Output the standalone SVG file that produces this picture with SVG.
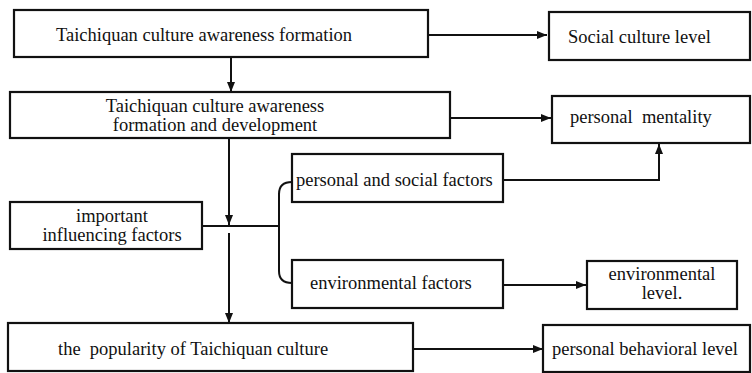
<svg xmlns="http://www.w3.org/2000/svg" width="752" height="373" viewBox="0 0 752 373">
<defs>
<marker id="ah" viewBox="0 0 10 8" refX="10" refY="4" markerWidth="11" markerHeight="8" markerUnits="userSpaceOnUse" orient="auto">
<path d="M0,0 L10,4 L0,8 z" fill="#111"/>
</marker>
<style>
.box{fill:#fff;stroke:#111;stroke-width:2.2}
.t{font-family:"Liberation Serif","Times New Roman",serif;font-size:18.5px;fill:#111;white-space:pre}
.c{text-anchor:middle}
.ln{fill:none;stroke:#111;stroke-width:2}
</style>
</defs>
<rect width="752" height="373" fill="#fff"/>
<g id="connectors">
<path class="ln" d="M428,35 H547" marker-end="url(#ah)"/>
<path class="ln" d="M231,57 V92" marker-end="url(#ah)"/>
<path class="ln" d="M450,118 H551" marker-end="url(#ah)"/>
<path class="ln" d="M229,138 V225" marker-end="url(#ah)"/>
<path class="ln" d="M229,233 V323" marker-end="url(#ah)"/>
<path class="ln" d="M202,226 H279"/>
<path class="ln" d="M292,182 Q279,182 279,194 V271 Q279,283 292,283"/>
<path class="ln" d="M503,180 H659 V144" marker-end="url(#ah)"/>
<path class="ln" d="M503,285 H586" marker-end="url(#ah)"/>
<path class="ln" d="M413,349 H543" marker-end="url(#ah)"/>
</g>
<g id="n1"><rect class="box" x="14" y="10" width="414" height="47"/><text class="t c" x="204" y="41">Taichiquan culture awareness formation</text></g>
<g id="n2"><rect class="box" x="549" y="12" width="201" height="48"/><text class="t" x="568" y="43">Social culture level</text></g>
<g id="n3"><rect class="box" x="10" y="92" width="440" height="46"/><text class="t c" x="215" y="112">Taichiquan culture awareness</text><text class="t c" x="215" y="131">formation and development</text></g>
<g id="n4"><rect class="box" x="552" y="96" width="198" height="47"/><text class="t" x="570" y="123">personal  mentality</text></g>
<g id="n5"><rect class="box" x="10" y="202" width="192" height="47"/><text class="t c" x="112" y="222">important</text><text class="t c" x="112" y="241">influencing factors</text></g>
<g id="n6"><rect class="box" x="292" y="154" width="211" height="48"/><text class="t" x="296" y="186">personal and social factors</text></g>
<g id="n7"><rect class="box" x="292" y="260" width="211" height="48"/><text class="t" x="310" y="289">environmental factors</text></g>
<g id="n8"><rect class="box" x="587" y="261" width="150" height="48"/><text class="t c" x="662" y="280">environmental</text><text class="t c" x="662" y="299">level.</text></g>
<g id="n9"><rect class="box" x="8" y="323" width="405" height="48"/><text class="t" x="58" y="355">the  popularity of Taichiquan culture</text></g>
<g id="n10"><rect class="box" x="543" y="325" width="207" height="47"/><text class="t" x="552" y="355">personal behavioral level</text></g>
</svg>
